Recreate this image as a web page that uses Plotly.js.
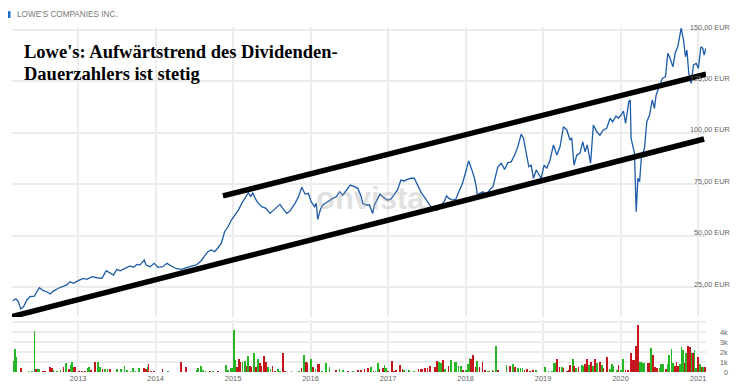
<!DOCTYPE html>
<html>
<head>
<meta charset="utf-8">
<script src="https://cdn.plot.ly/plotly-3.0.1.min.js"></script>
<style>html,body{margin:0;padding:0;background:#fff;}#chart{width:740px;height:391px;}</style>
</head>
<body>
<div id="chart"></div>
<script>
// ---- Price (EUR) ----
const priceDates = ["2012-02-27","2012-03-14","2012-03-25","2012-04-05","2012-04-18","2012-05-04","2012-05-19","2012-06-09","2012-06-20","2012-07-02","2012-07-21","2012-08-06","2012-08-22","2012-09-06","2012-09-30","2012-10-23","2012-11-08","2012-11-24","2012-12-10",
"2013-01-01","2013-01-26","2013-02-11","2013-03-07","2013-03-30","2013-04-23","2013-05-13","2013-06-01","2013-06-16","2013-07-02","2013-07-18","2013-08-10","2013-09-03","2013-09-19","2013-10-05","2013-10-20","2013-11-08","2013-11-17","2013-12-06","2013-12-25",
"2014-01-12","2014-02-04","2014-02-23","2014-03-16","2014-04-09","2014-05-02","2014-05-26","2014-06-18","2014-07-12","2014-08-04","2014-08-20","2014-09-04","2014-09-20","2014-10-06","2014-10-22","2014-11-07","2014-11-22","2014-12-08","2014-12-24",
"2015-01-10","2015-01-26","2015-02-11","2015-02-27","2015-03-14","2015-03-25","2015-04-04","2015-04-15","2015-04-30","2015-05-16","2015-06-05","2015-06-24","2015-07-10","2015-07-29","2015-08-10","2015-08-23","2015-09-11","2015-09-27","2015-10-20","2015-11-05","2015-11-21","2015-12-06","2015-12-22",
"2016-01-04","2016-01-20","2016-01-28","2016-02-04","2016-02-17","2016-02-28","2016-03-15","2016-03-31","2016-04-15","2016-05-01","2016-05-17","2016-06-01","2016-06-17","2016-07-06","2016-07-26","2016-08-11","2016-08-27","2016-09-03","2016-09-19","2016-10-05","2016-10-20","2016-10-28","2016-11-13","2016-11-24","2016-12-10","2016-12-28",
"2017-01-14","2017-01-29","2017-02-14","2017-03-02","2017-03-17","2017-04-02","2017-04-18","2017-05-04","2017-05-19","2017-06-04","2017-06-20","2017-07-05","2017-07-21","2017-08-06","2017-08-22","2017-09-07","2017-09-22","2017-10-03","2017-10-15","2017-10-31","2017-11-16","2017-12-02","2017-12-17",
"2018-01-04","2018-01-15","2018-01-28","2018-02-12","2018-02-20","2018-02-25","2018-03-08","2018-03-24","2018-04-08","2018-04-24","2018-05-10","2018-05-22","2018-06-02","2018-06-18","2018-07-04","2018-07-19","2018-08-04","2018-08-20","2018-09-04","2018-09-20","2018-10-01","2018-10-14","2018-10-26","2018-11-06","2018-11-17","2018-11-30","2018-12-12","2018-12-23",
"2019-01-06","2019-01-18","2019-02-03","2019-02-19","2019-03-07","2019-03-22","2019-04-07","2019-04-23","2019-05-08","2019-05-16","2019-05-27","2019-06-09","2019-06-24","2019-07-07","2019-07-18","2019-07-28","2019-08-13","2019-08-26","2019-09-11","2019-09-26","2019-10-12","2019-10-28","2019-11-13","2019-11-25","2019-12-11","2019-12-22",
"2020-01-04","2020-01-15","2020-01-25","2020-01-31","2020-02-09","2020-02-16","2020-02-20","2020-03-07","2020-03-15","2020-03-23","2020-03-31","2020-04-08","2020-04-23","2020-05-04","2020-05-17","2020-05-30","2020-06-09","2020-06-17","2020-07-03","2020-07-16","2020-07-31","2020-08-11","2020-08-22","2020-09-04","2020-09-16","2020-09-27","2020-10-13","2020-10-24","2020-11-02","2020-11-09","2020-11-18","2020-11-29","2020-12-10","2020-12-23",
"2021-01-02","2021-01-14","2021-01-23","2021-01-29","2021-02-06"];
const priceValues = [18.3,19.2,17.8,14.3,15.4,18.7,20.3,20.6,22.7,24.7,23.2,22.7,21.6,23.0,24.4,25.5,26.0,27.6,26.8,
28.1,29.2,28.7,30.0,29.5,29.2,32.9,31.7,30.8,33.6,32.9,34.1,35.2,34.6,36.0,35.8,38.1,35.7,34.9,36.5,
34.6,34.9,36.5,35.2,33.9,33.6,34.6,35.2,35.7,37.8,40.1,42.2,43.0,42.2,44.1,46.3,51.9,54.3,57.6,
60.0,62.4,65.7,68.1,70.9,68.9,70.9,68.1,65.7,64.1,63.3,60.8,62.4,63.8,65.2,63.3,60.8,62.1,65.7,68.9,73.5,70.2,70.6,
66.5,64.1,65.7,57.9,62.8,64.9,66.0,67.3,68.1,68.9,71.3,69.7,71.8,74.6,73.8,73.0,68.9,65.7,64.9,64.9,60.8,64.9,68.1,70.2,68.6,67.3,
67.7,69.7,72.2,77.0,76.6,77.4,77.9,77.9,74.6,71.3,68.9,66.5,64.1,62.8,62.4,64.9,66.5,69.3,68.1,67.3,67.7,71.8,75.4,
81.9,86.4,82.7,77.9,73.8,69.7,70.6,71.3,69.7,72.2,73.8,79.5,83.5,85.2,82.2,85.5,85.9,89.2,93.2,99.4,97.3,90.0,83.5,84.3,77.9,81.9,79.5,77.9,
84.3,82.7,86.8,94.1,89.2,93.2,103.0,101.4,96.5,97.6,84.3,89.2,90.0,95.7,90.8,94.1,85.2,103.8,100.5,98.9,101.4,102.2,107.1,105.4,108.2,107.1,
108.7,110.6,104.6,108.7,115.1,116.0,97.3,90.0,61.6,77.9,76.2,87.6,92.5,105.4,108.7,116.0,111.9,118.4,122.4,126.5,127.3,138.7,136.2,132.1,139.4,141.9,151.0,145.1,137.0,140.3,128.9,124.1,133.0,133.8,
131.4,141.9,141.1,137.8,141.1];

// ---- Trend channel (drawn annotation lines) ----
const lowerTrendDates = ["2012-02-24","2021-01-29"];
const lowerTrendValues = [10.6, 97.0];
const upperTrendDates = ["2014-11-14","2021-02-07"];
const upperTrendValues = [69.3, 128.6];

// ---- Volume (thousands), direction u = up week, d = down week ----
const volDates = ["2012-03-02","2012-03-09","2012-03-16","2012-04-05","2012-05-12","2012-05-28","2012-06-09","2012-06-17","2012-06-25","2012-07-02","2012-07-19","2012-07-30","2012-08-20","2012-08-31","2012-09-07","2012-09-23","2012-10-09","2012-10-24","2012-11-06","2012-11-17","2012-11-25","2012-12-03","2012-12-10","2012-12-18",
"2013-01-05","2013-01-19","2013-02-02","2013-02-14","2013-02-22","2013-03-02","2013-03-22","2013-04-03","2013-04-14","2013-04-25","2013-05-08","2013-05-19","2013-06-01","2013-07-03","2013-07-22","2013-08-07","2013-08-20","2013-09-04","2013-09-17","2013-09-28","2013-10-14","2013-11-07","2013-11-15","2013-11-23","2013-11-29","2013-12-09","2013-12-25",
"2014-02-02","2014-02-28","2014-05-01","2014-05-25","2014-07-12","2014-07-20","2014-08-02","2014-08-13","2014-08-24","2014-09-13","2014-09-29","2014-10-23","2014-11-28","2014-12-09","2014-12-23","2014-12-30",
"2015-01-06","2015-01-13","2015-01-20","2015-01-30","2015-02-05","2015-02-14","2015-02-25","2015-03-05","2015-03-13","2015-03-21","2015-03-29","2015-04-09","2015-04-18","2015-04-29","2015-05-07","2015-05-15","2015-05-26","2015-06-04","2015-06-15","2015-06-26","2015-07-06","2015-07-17","2015-08-02","2015-08-10","2015-08-23","2015-09-03","2015-10-04","2015-11-09","2015-11-20","2015-12-01","2015-12-10","2015-12-17",
"2016-01-04","2016-01-12","2016-01-24","2016-02-04","2016-02-12","2016-02-25","2016-03-15","2016-03-31","2016-05-01","2016-05-17","2016-06-01","2016-06-24","2016-07-18","2016-08-11","2016-08-27","2016-09-11","2016-09-27","2016-10-13","2016-10-24","2016-11-02","2016-11-13","2016-11-21","2016-12-06","2016-12-14","2016-12-22","2016-12-30",
"2017-01-18","2017-01-29","2017-02-06","2017-02-25","2017-03-09","2017-03-17","2017-04-10","2017-05-04","2017-05-24","2017-06-04","2017-06-12","2017-06-24","2017-07-05","2017-07-17","2017-08-11","2017-08-19","2017-08-30","2017-09-07","2017-09-15","2017-09-27","2017-10-13","2017-10-24","2017-11-09","2017-11-17","2017-11-29","2017-12-11","2017-12-21",
"2018-01-04","2018-01-11","2018-01-19","2018-01-27","2018-02-04","2018-02-17","2018-02-25","2018-03-08","2018-03-21","2018-04-01","2018-04-17","2018-04-24","2018-05-07","2018-05-13","2018-05-23","2018-06-03","2018-07-12","2018-07-28","2018-08-13","2018-08-22","2018-09-05","2018-09-16","2018-09-26","2018-10-06","2018-10-17","2018-10-30","2018-11-15","2018-11-28",
"2019-01-10","2019-01-26","2019-02-11","2019-02-22","2019-03-02","2019-03-09","2019-03-19","2019-03-30","2019-04-07","2019-04-23","2019-05-01","2019-05-09","2019-05-21","2019-05-28","2019-06-06","2019-06-17","2019-07-03","2019-07-11","2019-07-19","2019-07-27","2019-08-07","2019-08-15","2019-08-24","2019-09-04","2019-09-12","2019-09-28","2019-10-06","2019-10-13","2019-10-29","2019-11-11","2019-11-22","2019-11-29","2019-12-16","2019-12-23",
"2020-01-03","2020-01-12","2020-01-24","2020-02-04","2020-02-20","2020-02-28","2020-03-07","2020-03-14","2020-03-22","2020-03-30","2020-04-07","2020-04-15","2020-04-23","2020-05-09","2020-05-17","2020-05-25","2020-06-02","2020-06-10","2020-06-21","2020-07-03","2020-07-11","2020-07-19","2020-08-01","2020-08-09","2020-08-16","2020-08-28","2020-09-04","2020-09-13","2020-09-21","2020-09-28","2020-10-06","2020-10-14","2020-10-22","2020-10-30","2020-11-06","2020-11-14","2020-11-22","2020-11-30","2020-12-07","2020-12-15","2020-12-23",
"2021-01-01","2021-01-09","2021-01-17","2021-01-25","2021-02-02"];
const volK = [1.1,2.3,1.5,0.4,0.1,0.1,4.1,0.3,0.3,0.3,0.1,0.1,0.5,0.4,0.2,0.1,0.2,0.5,0.9,0.3,0.7,1.0,0.5,0.5,
0.1,0.1,0.1,0.4,0.5,0.2,1.0,1.0,0.5,0.3,0.3,0.3,0.3,0.3,0.3,0.6,0.2,0.1,0.4,0.1,0.4,0.4,0.3,0.5,0.8,0.1,0.1,
0.3,0.1,1.0,0.5,0.2,0.4,0.6,0.2,0.1,0.1,0.1,0.1,0.7,0.2,0.4,0.4,
4.2,1.2,0.5,1.3,1.0,1.0,1.1,0.6,1.6,0.6,0.5,1.9,0.5,1.3,0.9,0.6,1.6,1.0,0.5,0.3,0.6,0.1,0.3,0.1,1.9,0.1,0.1,0.1,0.4,1.7,1.0,0.9,
1.3,0.5,0.3,0.8,0.8,0.1,0.9,0.5,0.2,0.3,0.2,0.1,0.1,0.2,0.2,0.3,0.4,0.5,0.1,0.1,0.9,0.3,0.4,0.7,0.4,0.1,
1.1,0.1,0.2,0.7,0.3,0.2,0.2,0.1,0.3,0.3,0.3,0.4,0.4,0.6,0.5,1.1,1.0,0.9,1.2,0.3,0.6,1.2,1.0,1.0,0.6,0.6,0.2,
0.2,0.8,1.4,1.3,1.7,0.5,1.1,0.5,1.0,0.2,0.1,0.1,0.2,0.1,2.6,0.2,0.7,0.6,0.8,0.5,0.4,0.4,0.4,0.2,0.3,0.1,0.2,0.2,
0.5,0.1,0.1,0.9,0.9,1.3,0.5,0.5,0.4,0.1,0.2,0.7,1.3,0.6,0.4,0.5,0.7,0.6,0.8,1.3,0.7,1.0,0.6,1.3,0.9,1.0,0.7,0.4,1.5,0.3,0.8,0.6,0.2,0.7,
0.2,1.3,0.2,0.2,1.9,1.2,1.2,2.6,4.7,1.0,1.0,0.9,0.9,0.9,0.9,2.4,1.7,0.5,0.4,0.4,0.8,0.8,0.3,0.8,1.7,2.3,0.9,0.6,1.0,0.6,0.8,2.5,2.2,0.9,1.9,2.6,2.5,1.9,1.9,2.2,0.4,
1.5,0.8,0.5,0.5,0.5];
const volDir = ["u","u","u","d","u","u","u","d","u","u","d","d","d","d","u","u","u","d","u","d","u","u","d","d",
"d","d","d","u","u","d","d","u","u","d","u","u","d","u","u","u","u","u","u","u","u","d","d","u","d","d","d",
"d","u","d","d","u","u","u","u","u","d","u","d","u","u","u","u",
"u","u","d","d","d","u","u","d","u","d","d","u","d","u","d","d","d","d","u","u","d","d","u","u","d","d","u","u","d","u","d","d",
"u","d","u","d","d","u","u","u","d","u","u","d","u","d","d","d","d","u","d","u","u","d","d","u","u","d",
"d","d","d","d","d","u","u","u","d","d","d","d","d","d","d","d","u","u","d","u","d","u","u","u","u","u","d",
"u","u","u","d","d","d","u","d","d","d","u","d","u","d","u","d","u","d","u","d","u","u","u","d","d","d","d","u",
"u","u","u","u","u","d","d","u","d","d","d","d","u","d","u","d","u","u","d","d","u","d","u","d","u","d","u","d","d","u","u","u","u","d",
"u","u","d","d","d","d","d","d","d","u","u","u","u","d","d","u","d","d","d","u","u","u","d","u","u","u","u","d","d","d","u","u","u","d","u","d","d","u","d","u","u",
"d","u","d","u","d"];

// ---- Axis ticks ----
const priceTickVals = [25, 50, 75, 100, 125, 150];
const priceTickText = ["\u00a0\u00a025,00 EUR","\u00a0\u00a050,00 EUR","\u00a0\u00a075,00 EUR","100,00 EUR","125,00 EUR","150,00 EUR"];
const volTickVals = [0, 1, 2, 3, 4, 5];
const volTickText = ["\u00a0\u00a00","1k","2k","3k","4k",""];

const GREEN = "#25b525", RED = "#c4161c";
const volColors = volDir.map(d => d === "u" ? GREEN : RED);

const font = "Liberation Sans, Arial, sans-serif";
const serif = "Liberation Serif, Times New Roman, serif";

const traces = [
  {x: volDates, y: volK, type: "bar", xaxis: "x", yaxis: "y2",
   marker: {color: volColors, line: {width: 0}}, width: 8*86400000,
   hoverinfo: "skip", showlegend: false},
  {x: priceDates, y: priceValues, type: "scatter", mode: "lines", xaxis: "x", yaxis: "y",
   line: {color: "#1d5ca8", width: 1.3}, showlegend: false, hoverinfo: "skip"},
  {x: lowerTrendDates, y: lowerTrendValues, type: "scatter", mode: "lines", xaxis: "x", yaxis: "y",
   line: {color: "#000", width: 5.5}, showlegend: false, hoverinfo: "skip"},
  {x: upperTrendDates, y: upperTrendValues, type: "scatter", mode: "lines", xaxis: "x", yaxis: "y",
   line: {color: "#000", width: 5.5}, showlegend: false, hoverinfo: "skip"}
];

const layout = {
  width: 740, height: 391,
  margin: {l: 12, r: 34, t: 27, b: 19, pad: 0},
  paper_bgcolor: "#fff", plot_bgcolor: "#fff",
  bargap: 0,
  font: {family: font, color: "#666"},
  xaxis: {
    type: "date", range: ["2012-02-24", "2021-02-07"], anchor: "y2",
    tick0: "2013-01-01", dtick: "M12", tickformat: "%Y",
    showgrid: true, gridcolor: "#ececec", gridwidth: 2,
    zeroline: false, showline: false, ticks: "",
    tickfont: {size: 7.5, color: "#666", family: font}
  },
  yaxis: {
    domain: [0.1594, 1], range: [10.4, 151.5], side: "right",
    tickvals: priceTickVals, ticktext: priceTickText,
    showgrid: true, gridcolor: "#ececec", gridwidth: 2,
    zeroline: false, showline: false, ticks: "",
    ticklabelstandoff: -17, ticklabelshift: -3,
    tickfont: {size: 7.3, color: "#666", family: font}
  },
  yaxis2: {
    domain: [0, 0.1507], range: [0, 5.2], side: "right",
    tickvals: volTickVals, ticktext: volTickText,
    showgrid: true, gridcolor: "#ececec", gridwidth: 1.5,
    zeroline: false, showline: false, ticks: "",
    ticklabelstandoff: 13,
    tickfont: {size: 7.3, color: "#666", family: font}
  },
  shapes: [
    {type: "rect", xref: "paper", yref: "paper", x0: -0.0058, x1: -0.0022, y0: 1.026, y1: 1.046,
     fillcolor: "#1a6fd1", line: {width: 0}}
  ],
  annotations: [
    {text: "LOWE'S COMPANIES INC.", xref: "paper", yref: "paper", x: 0.0043, y: 1.036,
     xanchor: "left", yanchor: "middle", showarrow: false,
     font: {size: 8.2, color: "#777", family: font}},
    {text: "Lowe's: Aufwärtstrend des Dividenden-",
     xref: "paper", yref: "paper", x: 0.0144, y: 0.9284, xanchor: "left", yanchor: "middle", align: "left",
     showarrow: false, font: {size: 18.5, color: "#000", family: serif, weight: "bold"}},
    {text: "Dauerzahlers ist stetig",
     xref: "paper", yref: "paper", x: 0.0144, y: 0.8646, xanchor: "left", yanchor: "middle", align: "left",
     showarrow: false, font: {size: 18.5, color: "#000", family: serif, weight: "bold"}},
    {text: "<b>onvista</b>", xref: "paper", yref: "paper", x: 0.516, y: 0.504,
     xanchor: "center", yanchor: "middle", showarrow: false, opacity: 0.35,
     font: {size: 31, color: "#aaa", family: font}}
  ]
};

Plotly.newPlot("chart", traces, layout, {displayModeBar: false, staticPlot: true});
</script>
</body>
</html>
